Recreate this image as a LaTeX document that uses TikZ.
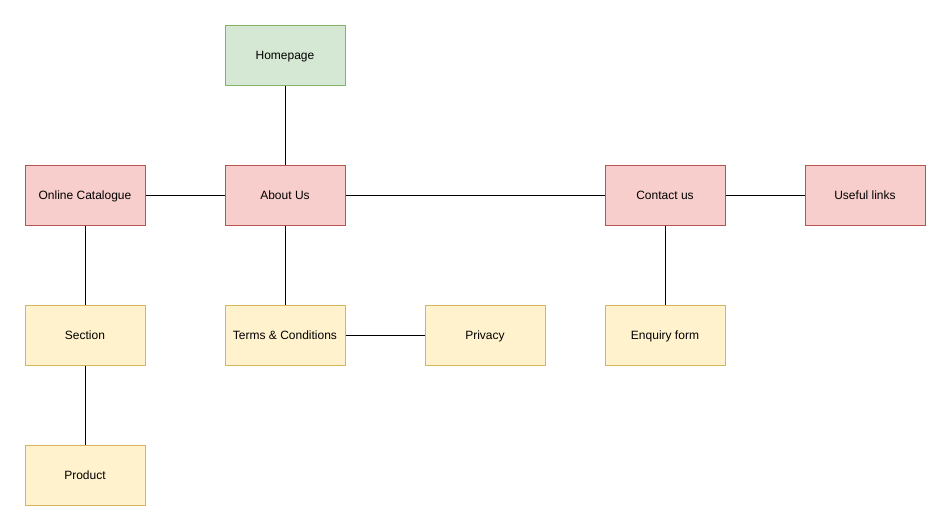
\documentclass[tikz,border=0pt]{standalone}
\usepackage{fontspec}
\setmainfont{Liberation Sans}
\usepackage{tikz}
\definecolor{greenfill}{HTML}{D5E8D4}
\definecolor{greenline}{HTML}{82B366}
\definecolor{redfill}{HTML}{F8CECC}
\definecolor{redline}{HTML}{B85450}
\definecolor{yellowfill}{HTML}{FFF2CC}
\definecolor{yellowline}{HTML}{D6B656}
\tikzset{
  page/.style={draw, line width=1pt, minimum width=120pt, minimum height=60pt, inner sep=0pt, text height=8.6pt, text depth=0pt, font=\fontsize{12}{14}\selectfont},
  homepage/.style={page, fill=greenfill, draw=greenline},
  mainpage/.style={page, fill=redfill, draw=redline},
  subpage/.style={page, fill=yellowfill, draw=yellowline},
  link/.style={line width=1pt, black}
}

\begin{document}
\begin{tikzpicture}[x=1pt,y=-1pt]
              \useasboundingbox (0,0) rectangle (951,531);
              \node[homepage] (home) at (285,55) {Homepage};
              \node[mainpage] (catalogue) at (85,195) {Online Catalogue};
              \node[mainpage] (about) at (285,195) {About Us};
              \node[mainpage] (contact) at (665,195) {Contact us};
              \node[mainpage] (links) at (865,195) {Useful links};
              \node[subpage] (section) at (85,335) {Section};
              \node[subpage] (terms) at (285,335) {Terms \& Conditions};
              \node[subpage] (privacy) at (485,335) {Privacy};
              \node[subpage] (enquiry) at (665,335) {Enquiry form};
              \node[subpage] (product) at (85,475) {Product};
              \draw[link] (home) -- (about);
              \draw[link] (catalogue) -- (about);
              \draw[link] (about) -- (contact);
              \draw[link] (contact) -- (links);
              \draw[link] (catalogue) -- (section);
              \draw[link] (section) -- (product);
              \draw[link] (about) -- (terms);
              \draw[link] (terms) -- (privacy);
              \draw[link] (contact) -- (enquiry);
            \end{tikzpicture}
\end{document}
